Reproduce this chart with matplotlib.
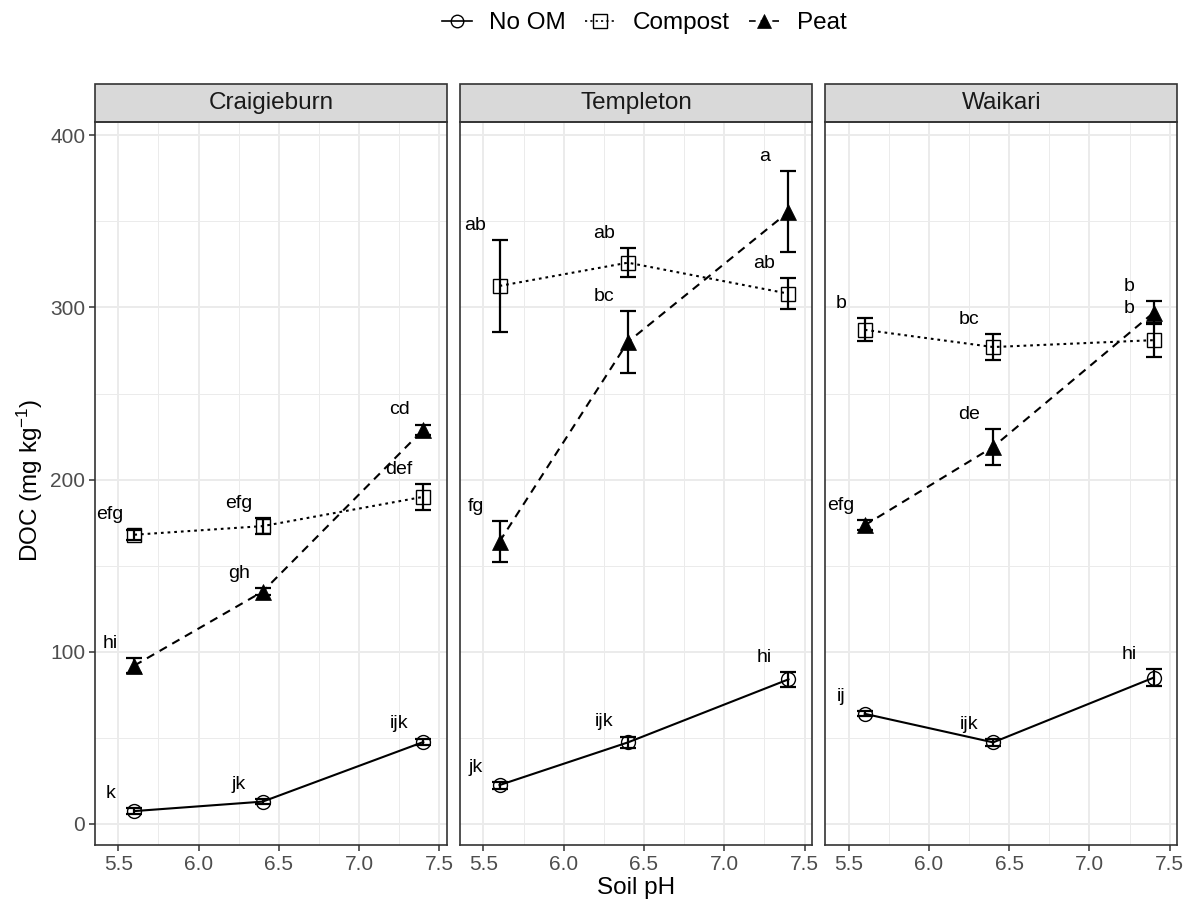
import numpy as np
import matplotlib
matplotlib.use("Agg")
import matplotlib.pyplot as plt
from matplotlib.lines import Line2D
from matplotlib.patches import Rectangle


plt.rcParams['font.family'] = ['Liberation Sans', 'DejaVu Sans']
plt.rcParams['mathtext.default'] = 'regular'

# data (rows = sites, cols = pH levels)
sites = ['Craigieburn', 'Templeton', 'Waikari']
ph = [5.6, 6.4, 7.4]

noom_mean = [[7.5, 13.0, 47.6], [22.6, 47.4, 84.0], [64.0, 47.4, 85.0]]
noom_se = [[1.5, 1.5, 2.0], [2.0, 3.4, 4.4], [1.5, 2.0, 5.0]]
noom_lab = [['k', 'jk', 'ijk'], ['jk', 'ijk', 'hi'], ['ij', 'ijk', 'hi']]

compost_mean = [[168.0, 173.0, 190.0], [312.5, 326.0, 308.0], [287.0, 277.0, 281.0]]
compost_se = [[3.0, 4.5, 7.5], [26.5, 8.5, 9.0], [6.7, 7.5, 10.0]]
compost_lab = [['efg', 'efg', 'def'], ['ab', 'ab', 'ab'], ['b', 'bc', 'b']]

peat_mean = [[92.0, 135.0, 229.0], [164.0, 280.0, 355.5], [173.5, 219.0, 297.0]]
peat_se = [[4.5, 2.0, 3.0], [12.0, 18.0, 23.5], [3.0, 10.5, 6.5]]
peat_lab = [['hi', 'gh', 'cd'], ['fg', 'bc', 'a'], ['efg', 'de', 'b']]

series = [
    ('No OM', noom_mean, noom_se, noom_lab, dict(marker='o', ms=10, mfc='none', mew=1.0, ls='-')),
    ('Compost', compost_mean, compost_se, compost_lab, dict(marker='s', ms=10.5, mfc='none', mew=1.0, ls=(0, (1.3, 1.9)))),
    ('Peat', peat_mean, peat_se, peat_lab, dict(marker='^', ms=11.5, mfc='black', mew=0.5, ls=(0, (4, 3)))),
]

W, H = 1184, 902
fig = plt.figure(figsize=(W / 100, H / 100), dpi=100)

left_px, width_px, gap_px = 95, 351.7, 13.5
top_px, bottom_px = 122, 845
strip_px = 38

axes = []
for k, site in enumerate(sites):
    x0 = (left_px + k * (width_px + gap_px)) / W
    ax = fig.add_axes([x0, 1 - bottom_px / H, width_px / W, (bottom_px - top_px) / H])
    axes.append(ax)

    for name, mean, se, lab, st in series:
        ax.errorbar(ph, mean[k], yerr=se[k], fmt='none', ecolor='black',
                    elinewidth=1.6, capsize=5.5, capthick=1.6, zorder=3)
        ax.plot(ph, mean[k], color='black', lw=1.5, marker=st['marker'], ms=st['ms'],
                mfc=st['mfc'], mec='black', mew=st['mew'], linestyle=st['ls'], zorder=4)
        for x, m, s, t in zip(ph, mean[k], se[k], lab[k]):
            ax.text(x - 0.15, m + s + 8.5, t, ha='center', va='center', fontsize=14, color='black')

    ax.set_xlim(5.355, 7.546)
    ax.set_ylim(-12.2, 407.7)
    ax.set_xticks([5.5, 6.0, 6.5, 7.0, 7.5])
    ax.set_xticks([5.75, 6.25, 6.75, 7.25], minor=True)
    ax.set_yticks([0, 100, 200, 300, 400])
    ax.set_yticks([50, 150, 250, 350], minor=True)
    ax.grid(which='major', color='#EBEBEB', lw=1.4, zorder=0)
    ax.grid(which='minor', color='#EBEBEB', lw=0.7, zorder=0)
    ax.set_axisbelow(True)
    for sp in ax.spines.values():
        sp.set_color('#333333')
        sp.set_linewidth(1.2)
    ax.tick_params(which='major', length=4, width=1.1, color='#333333', labelsize=15,
                   labelcolor='#4D4D4D', pad=3)
    ax.tick_params(which='minor', length=0)
    if k > 0:
        ax.tick_params(axis='y', which='both', left=False, labelleft=False)

    # facet strip
    sh = strip_px / (bottom_px - top_px)
    ax.add_patch(Rectangle((0, 1), 1, sh, transform=ax.transAxes, clip_on=False,
                           facecolor='#D9D9D9', edgecolor='#333333', lw=1.2))
    ax.text(0.5, 1 + sh / 2, site, transform=ax.transAxes, ha='center', va='center',
            fontsize=17.5, color='#1A1A1A')

mid_x = (left_px + (3 * width_px + 2 * gap_px) / 2) / W
fig.text(mid_x, 1 - 888 / H, 'Soil pH', ha='center', va='center', fontsize=17.5)
fig.text(30 / W, 1 - 480 / H, 'DOC (mg kg$^{-1}$)', ha='center', va='center',
         rotation=90, fontsize=17.5)

handles = [Line2D([], [], color='black', lw=1.2, marker=st['marker'], ms=st['ms'] - 1,
                  mfc=st['mfc'], mec='black', mew=st['mew'], linestyle=st['ls'])
           for _, _, _, _, st in series]
fig.legend(handles, [s[0] for s in series], loc='center', bbox_to_anchor=(644 / W, 1 - 23 / H),
           ncol=3, frameon=False, fontsize=17.5, handlelength=1.25, handletextpad=0.7,
           columnspacing=0.8)

fig.savefig('out.png', dpi=100)
